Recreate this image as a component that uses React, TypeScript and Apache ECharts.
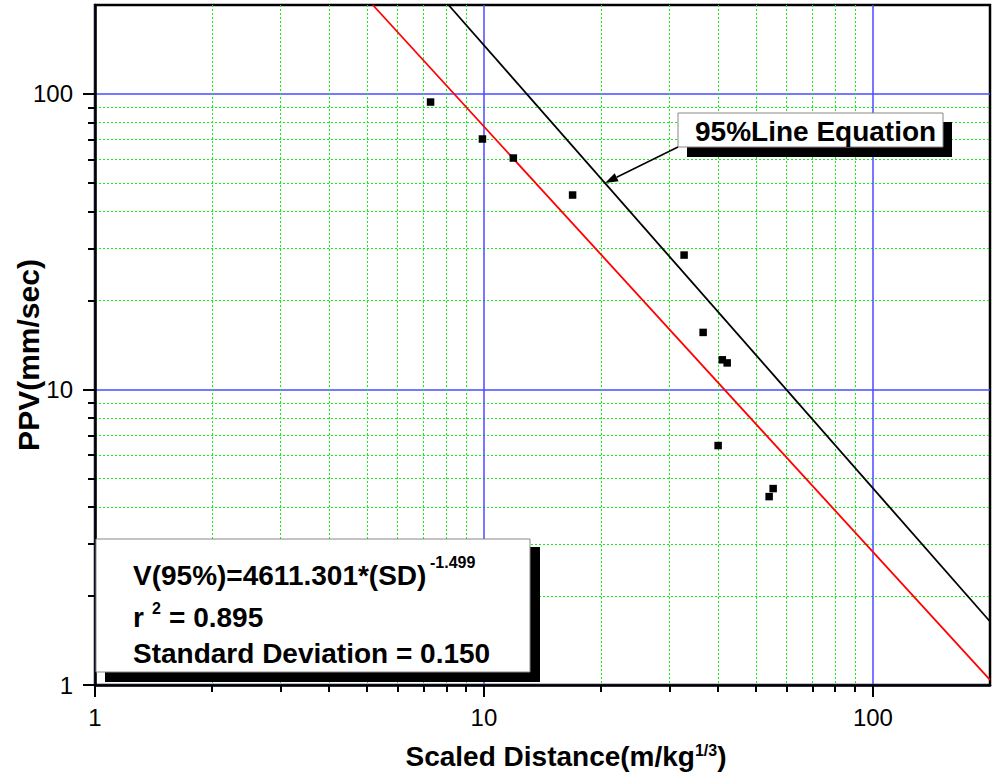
import React, { useEffect, useRef } from 'react';
import * as echarts from 'echarts';

const FONT = '"Liberation Sans", Arial, Helvetica, sans-serif';

// Measured data (scaled distance vs PPV)
const scaledDistance = [7.29, 9.91, 11.9, 16.9, 32.7, 36.6, 41.0, 42.2, 40.0, 55.4, 54.1];
const ppv = [93.9, 70.4, 60.7, 45.5, 28.5, 15.6, 12.6, 12.3, 6.46, 4.62, 4.34];

// Fit lines (end points)
const line95 = [[8.11, 200], [200, 1.64]];
const lineMean = [[5.18, 200], [200, 1.04]];

// Ticks
const majorTicks = [1, 10, 100];
const minorTicks = [2, 3, 4, 5, 6, 7, 8, 9, 20, 30, 40, 50, 60, 70, 80, 90];

const GRID = { left: 95, top: 5, width: 895, height: 680 };

function makeAxis(kind: 'x' | 'y') {
  const major = {
    type: 'log',
    logBase: 10,
    min: 1,
    max: 200,
    gridIndex: 0,
    position: kind === 'x' ? 'bottom' : 'left',
    axisLine: { show: true, lineStyle: { color: '#000', width: 2.5 } },
    axisTick: {
      show: true,
      inside: false,
      length: 12,
      customValues: majorTicks,
      lineStyle: { color: '#000', width: 2 },
    },
    axisLabel: {
      show: true,
      customValues: majorTicks,
      fontSize: 24,
      fontFamily: FONT,
      color: '#000',
      margin: kind === 'x' ? 20 : 22,
      formatter: (v: number) => String(Math.round(v)),
    },
    splitLine: { show: true, lineStyle: { color: '#4a4aff', width: 1.5, type: 'solid' } },
    minorTick: { show: false },
    minorSplitLine: { show: false },
  };
  const minor = {
    type: 'log',
    logBase: 10,
    min: 1,
    max: 200,
    gridIndex: 0,
    position: kind === 'x' ? 'bottom' : 'left',
    axisLine: { show: false },
    axisTick: {
      show: true,
      inside: false,
      length: 7,
      customValues: minorTicks,
      lineStyle: { color: '#000', width: 2 },
    },
    axisLabel: { show: false },
    splitLine: { show: true, lineStyle: { color: '#11f011', width: 1, type: [2, 2] } },
    minorTick: { show: false },
    minorSplitLine: { show: false },
  };
  return [minor, major];
}

export default function App() {
  const ref = useRef<HTMLDivElement>(null);

  useEffect(() => {
    if (!ref.current) return;
    const chart = echarts.init(ref.current, undefined, { renderer: 'svg' });

    // arrow geometry for the annotation
    const ax0 = 678, ay0 = 147, tipX = 605, tipY = 183;
    const dx = tipX - ax0, dy = tipY - ay0;
    const len = Math.sqrt(dx * dx + dy * dy);
    const ux = dx / len, uy = dy / len;
    const headL = 13, headW = 4.5;
    const bx = tipX - ux * headL, by = tipY - uy * headL;
    const px = -uy, py = ux;

    const boldText = (text: string, x: number, y: number, size: number, extra: any = {}) => ({
      type: 'text',
      x,
      y,
      z: 100,
      style: {
        text,
        fontSize: size,
        fontWeight: 'bold',
        fontFamily: FONT,
        fill: '#000',
        align: 'left',
        verticalAlign: 'middle',
      },
      ...extra,
    });

    const option: any = {
      animation: false,
      backgroundColor: '#fff',
      grid: {
        ...GRID,
        show: true,
        borderColor: '#000',
        borderWidth: 2.5,
        backgroundColor: 'transparent',
        containLabel: false,
      },
      xAxis: makeAxis('x'),
      yAxis: makeAxis('y'),
      series: [
        {
          name: 'V(95%)',
          type: 'line',
          xAxisIndex: 1,
          yAxisIndex: 1,
          data: line95,
          showSymbol: false,
          symbol: 'none',
          clip: true,
          lineStyle: { color: '#000', width: 1.8 },
          z: 3,
        },
        {
          name: 'Mean',
          type: 'line',
          xAxisIndex: 1,
          yAxisIndex: 1,
          data: lineMean,
          showSymbol: false,
          symbol: 'none',
          clip: true,
          lineStyle: { color: '#ff0000', width: 1.8 },
          z: 3,
        },
        {
          name: 'PPV',
          type: 'scatter',
          xAxisIndex: 1,
          yAxisIndex: 1,
          data: scaledDistance.map((x, i) => [x, ppv[i]]),
          symbol: 'rect',
          symbolSize: 7.5,
          itemStyle: { color: '#000', opacity: 1 },
          z: 4,
        },
      ],
      graphic: [
        // axis titles
        {
          type: 'text',
          x: 566,
          y: 756,
          z: 100,
          style: {
            text: '{b|Scaled Distance(m/kg}{s|1/3}{b|)}',
            align: 'center',
            verticalAlign: 'middle',
            fill: '#000',
            rich: {
              b: { fontSize: 28, fontWeight: 'bold', fontFamily: FONT, fill: '#000' },
              s: { fontSize: 16, fontWeight: 'bold', fontFamily: FONT, fill: '#000', verticalAlign: 'top' },
            },
          },
        },
        {
          type: 'text',
          x: 28,
          y: 355,
          rotation: Math.PI / 2,
          z: 100,
          style: {
            text: 'PPV(mm/sec)',
            fontSize: 30,
            fontWeight: 'bold',
            fontFamily: FONT,
            fill: '#000',
            align: 'center',
            verticalAlign: 'middle',
          },
        },
        // 95% label box
        { type: 'rect', z: 98, shape: { x: 687, y: 122, width: 265, height: 35 }, style: { fill: '#000' } },
        { type: 'rect', z: 99, shape: { x: 678, y: 113, width: 265, height: 34 }, style: { fill: '#fff', stroke: '#888', lineWidth: 1 } },
        boldText('95%Line Equation', 695, 131, 28),
        {
          type: 'line',
          z: 99,
          shape: { x1: ax0, y1: ay0, x2: bx, y2: by },
          style: { stroke: '#000', lineWidth: 1.5 },
        },
        {
          type: 'polygon',
          z: 99,
          shape: {
            points: [
              [tipX, tipY],
              [bx + px * headW, by + py * headW],
              [bx - px * headW, by - py * headW],
            ],
          },
          style: { fill: '#000' },
        },
        // equation box
        { type: 'rect', z: 98, shape: { x: 105, y: 547, width: 435, height: 135 }, style: { fill: '#000' } },
        { type: 'rect', z: 99, shape: { x: 96, y: 539, width: 434, height: 133 }, style: { fill: '#fff', stroke: '#888', lineWidth: 1 } },
        boldText('V(95%)=4611.301*(SD)', 133, 575, 28),
        boldText('-1.499', 430, 562, 16),
        boldText('r', 133, 617, 28),
        boldText('2', 152, 608, 16),
        boldText('= 0.895', 169, 617, 28),
        boldText('Standard Deviation = 0.150', 133, 653, 28),
      ],
    };

    chart.setOption(option);
    return () => chart.dispose();
  }, []);

  return (
    <div
      ref={ref}
      style={{ position: 'fixed', left: 0, top: 0, width: 992, height: 778, background: '#fff' }}
    />
  );
}
